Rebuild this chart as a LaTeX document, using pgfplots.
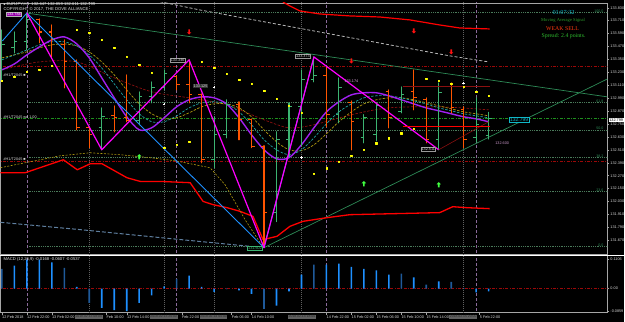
\documentclass[border=0pt]{standalone}
\usepackage{pgfplots}
\pgfplotsset{compat=1.18}
\usepackage{fontspec}
\setmainfont{Liberation Sans}
\newfontfamily\serif{Liberation Serif}
\definecolor{bull}{HTML}{3CB371}
\definecolor{bear}{HTML}{FF5500}
\definecolor{zzmag}{HTML}{FF00FF}
\definecolor{zzblue}{HTML}{1E90FF}
\definecolor{maviolet}{HTML}{A020F0}
\definecolor{macyan}{HTML}{1FA5A5}
\definecolor{maolive}{HTML}{B09A10}
\definecolor{madred}{HTML}{8B1010}
\definecolor{trendg}{HTML}{2E8B57}
\definecolor{fibc}{HTML}{4A7A5A}
\definecolor{lvlred}{HTML}{9A0808}
\definecolor{lvlgreen}{HTML}{1E8F1E}
\definecolor{sepc}{HTML}{8A6A9A}
\definecolor{vdot}{HTML}{606060}
\definecolor{sar}{HTML}{FFFF00}
\definecolor{macdb}{HTML}{1E90FF}
\definecolor{macdd}{HTML}{1F5A9A}
\definecolor{greyd}{HTML}{5F7F9F}
\definecolor{greyu}{HTML}{B8B8B8}
\definecolor{clockc}{HTML}{10B8C8}
\definecolor{sellc}{HTML}{FF3A10}
\definecolor{sprc}{HTML}{30C030}
\definecolor{masig}{HTML}{2A9A2A}
\definecolor{arrg}{HTML}{40FF40}
\definecolor{arrr}{HTML}{FF1010}
\newcommand{\axf}{\fontsize{3.8}{4}\selectfont}
\newcommand{\hf}{\fontsize{4.2}{4.6}\selectfont}
\pgfdeclareplotmark{uarr}{%
 \pgfpathmoveto{\pgfqpoint{0pt}{2.6pt}}%
 \pgfpathlineto{\pgfqpoint{2.2pt}{0.4pt}}%
 \pgfpathlineto{\pgfqpoint{0.8pt}{0.4pt}}%
 \pgfpathlineto{\pgfqpoint{0.8pt}{-2.6pt}}%
 \pgfpathlineto{\pgfqpoint{-0.8pt}{-2.6pt}}%
 \pgfpathlineto{\pgfqpoint{-0.8pt}{0.4pt}}%
 \pgfpathlineto{\pgfqpoint{-2.2pt}{0.4pt}}%
 \pgfpathclose\pgfusepathqfill}
\pgfdeclareplotmark{darr}{%
 \pgfpathmoveto{\pgfqpoint{0pt}{-2.6pt}}%
 \pgfpathlineto{\pgfqpoint{2.2pt}{-0.4pt}}%
 \pgfpathlineto{\pgfqpoint{0.8pt}{-0.4pt}}%
 \pgfpathlineto{\pgfqpoint{0.8pt}{2.6pt}}%
 \pgfpathlineto{\pgfqpoint{-0.8pt}{2.6pt}}%
 \pgfpathlineto{\pgfqpoint{-0.8pt}{-0.4pt}}%
 \pgfpathlineto{\pgfqpoint{-2.2pt}{-0.4pt}}%
 \pgfpathclose\pgfusepathqfill}
\begin{document}
\begin{tikzpicture}
\fill[black] (0pt,0pt) rectangle (625pt,322pt);
% ================= MAIN PRICE PANEL =================
\begin{axis}[
 at={(0pt,67pt)}, anchor=south west, scale only axis,
 width=608pt, height=252pt,
 xmin=-0.12, xmax=48.52, ymin=131.537, ymax=133.874,
 axis line style={draw=gray!70},
 xtick=\empty, scaled y ticks=false,
 ytick={131.67,131.79,131.91,132.03,132.15,132.27,132.39,132.51,132.63,132.75,132.87,132.99,133.11,133.23,133.35,133.47,133.59,133.71,133.83},
 ytick pos=right, yticklabel pos=right,
 tick align=outside, major tick length=2pt,
 tick style={gray!70, line width=0.4pt},
 yticklabel style={font=\axf, text=white!85!black, inner xsep=0.8pt,
   /pgf/number format/fixed, /pgf/number format/fixed zerofill,
   /pgf/number format/precision=3, /pgf/number format/assume math mode=true},
 unbounded coords=jump,
 every axis plot/.append style={line join=round},
]
% fibonacci levels
\addplot[fibc, line width=0.5pt, dash pattern=on 0.7pt off 1.1pt] coordinates {(2,133.784)(49,133.784)(49,nan)(2,132.954)(49,132.954)(49,nan)(2,132.696)(49,132.696)(49,nan)(2,132.441)(49,132.441)(49,nan)(2,132.124)(49,132.124)(49,nan)(2,131.611)(49,131.611)};
% red / green dash-dot levels
\addplot[lvlred, line width=0.6pt, dash pattern=on 3pt off 1.5pt on 0.8pt off 1.5pt] coordinates {(-1,133.290)(49,133.290)(49,nan)(-1,132.406)(49,132.406)};
\addplot[lvlgreen, line width=0.6pt, dash pattern=on 3pt off 1.5pt on 0.8pt off 1.5pt] coordinates {(-1,132.805)(49,132.805)};
% vertical lines
\addplot[vdot, line width=0.5pt, dash pattern=on 0.8pt off 1.2pt] coordinates {(7,131)(7,134)(7,nan)(13,131)(13,134)(13,nan)(17,131)(17,134)(17,nan)(24,131)(24,134)(24,nan)(37,131)(37,134)};
\addplot[sepc, line width=0.6pt, dash pattern=on 3pt off 2pt] coordinates {(2,131)(2,134)(2,nan)(14,131)(14,134)(14,nan)(26,131)(26,134)(26,nan)(38,131)(38,134)};
% grey dashed lines
\addplot[greyu, line width=0.8pt, dash pattern=on 3pt off 2pt] coordinates {(12.68,133.886)(15.88,133.809)(26.04,133.592)(35.88,133.383)(39.0,133.327)};
\addplot[greyd, line width=1pt, dash pattern=on 4pt off 2pt] coordinates {(-0.12,131.837)(6.28,131.769)(12.68,131.695)(19.88,131.614)};
% trend lines
\addplot[trendg, line width=0.7pt] coordinates {(1.96,133.781)(48.52,133.002)};
\addplot[trendg, line width=0.7pt] coordinates {(21,131.602)(48.52,133.169)};
% red envelopes
\addplot[red, line width=1.2pt] coordinates {(22.52,133.883)(23.08,133.846)(23.88,133.800)(25.48,133.772)(27.88,133.754)(30.28,133.744)(32.68,133.717)(35.08,133.670)(36.68,133.642)(39.08,133.633)};
\addplot[red, line width=1.3pt] coordinates {(-0.12,132.298)(1.88,132.298)(4.92,132.418)(6.04,132.325)(7.08,132.381)(8.02,132.381)(10.02,132.251)(11.08,132.217)(12.68,132.217)(15.08,132.205)(16.12,132.031)(16.92,132.001)(18.04,131.973)(19.08,131.939)(20.12,131.892)(20.92,131.676)(22.04,131.707)(23.08,131.800)(24.12,131.846)(26.04,131.880)(27.88,131.908)(35.08,131.927)(36.12,131.982)(37.24,131.973)(39.08,131.964)};
% moving averages
\addplot[madred, line width=0.7pt, dash pattern=on 2.5pt off 1.5pt, smooth] coordinates {(0,133.253)(3,133.327)(6,133.327)(9,133.179)(12,133.049)(15,132.993)(18,132.928)(21,132.789)(23,132.715)(25,132.743)(28,132.836)(31,132.900)(35,132.910)(39,132.882)};
\addplot[maolive, line width=0.6pt, dash pattern=on 2pt off 1.5pt] coordinates {(-0.12,132.344)(2.28,132.400)(4.68,132.455)(7.08,132.483)(9.48,132.465)(11.88,132.437)(13.88,132.409)(15.48,132.372)(16.68,132.344)(17.88,132.186)(19.48,131.862)(20.84,131.621)};
\addplot[maolive, line width=0.7pt, dash pattern=on 2.5pt off 1.5pt, smooth] coordinates {(0,133.364)(1,133.392)(2,133.420)(3,133.457)(4,133.485)(5,133.494)(6,133.475)(7,133.420)(8,133.327)(9,133.206)(10,133.067)(11,132.937)(12,132.845)(13,132.798)(14,132.808)(15,132.854)(16,132.910)(17,132.937)(18,132.937)(19,132.900)(20,132.817)(21,132.696)(22,132.585)(23,132.511)(24,132.502)(25,132.557)(26,132.659)(27,132.771)(28,132.863)(29,132.937)(30,132.975)(31,132.993)(32,132.993)(33,132.975)(34,132.947)(35,132.919)(36,132.891)(37,132.863)(38,132.845)(39,132.826)};
\addplot[macyan, line width=0.7pt, dash pattern=on 2.5pt off 1.5pt, smooth] coordinates {(0,133.346)(1,133.392)(2,133.438)(3,133.485)(4,133.513)(5,133.513)(6,133.475)(7,133.392)(8,133.271)(9,133.123)(10,132.975)(11,132.845)(12,132.771)(13,132.771)(14,132.826)(15,132.900)(16,132.947)(17,132.956)(18,132.937)(19,132.863)(20,132.743)(21,132.604)(22,132.511)(23,132.465)(24,132.511)(25,132.622)(26,132.752)(27,132.863)(28,132.937)(29,132.993)(30,133.012)(31,133.012)(32,132.993)(33,132.965)(34,132.937)(35,132.900)(36,132.873)(37,132.845)(38,132.826)(39,132.808)};
\addplot[maviolet, line width=1.4pt, smooth] coordinates {(0,133.253)(1,133.308)(2,133.392)(3,133.466)(4,133.531)(5,133.559)(6,133.494)(7,133.364)(8,133.179)(9,132.993)(10,132.817)(11,132.696)(12,132.715)(13,132.808)(14,132.910)(15,132.975)(16,133.002)(17,132.993)(18,132.937)(19,132.808)(20,132.650)(21,132.511)(22,132.427)(23,132.437)(24,132.557)(25,132.715)(26,132.863)(27,132.956)(28,133.021)(29,133.040)(30,133.040)(31,133.012)(32,132.975)(33,132.937)(34,132.900)(35,132.873)(36,132.845)(37,132.817)(38,132.798)(39,132.771)};
% OHLC bars - bullish
\addplot[bull, line width=1.1pt] coordinates {
(-0.25,133.253)(0,133.253)(0,133.624)(0,133.160)(0,133.485)(0.25,133.485)(0,nan)
(0.75,133.457)(1,133.457)(1,133.605)(1,133.410)(1,133.513)(1.25,133.513)(1,nan)
(1.75,133.513)(2,133.513)(2,133.781)(2,133.438)(2,133.717)(2.25,133.717)(2,nan)
(7.75,132.715)(8,132.715)(8,132.900)(8,132.511)(8,132.817)(8.25,132.817)(8,nan)
(10.75,132.780)(11,132.780)(11,133.049)(11,132.743)(11,133.002)(11.25,133.002)(11,nan)
(11.75,133.002)(12,133.002)(12,133.142)(12,132.947)(12,133.086)(12.25,133.086)(12,nan)
(12.75,133.086)(13,133.086)(13,133.253)(13,133.067)(13,133.216)(13.25,133.216)(13,nan)
(16.75,132.418)(17,132.418)(17,132.817)(17,132.344)(17,132.650)(17.25,132.650)(17,nan)
(17.75,132.650)(18,132.650)(18,132.975)(18,132.622)(18,132.928)(18.25,132.928)(18,nan)
(21.75,131.927)(22,131.927)(22,132.678)(22,131.843)(22,132.604)(22.25,132.604)(22,nan)
(22.75,132.604)(23,132.604)(23,132.947)(23,132.446)(23,132.910)(23.25,132.910)(23,nan)
(23.75,132.910)(24,132.910)(24,133.253)(24,132.548)(24,133.160)(24.25,133.160)(24,nan)
(24.75,133.160)(25,133.160)(25,133.373)(25,133.142)(25,133.197)(25.25,133.197)(25,nan)
(26.75,132.836)(27,132.836)(27,133.179)(27,132.761)(27,133.086)(27.25,133.086)(27,nan)
(28.75,132.622)(29,132.622)(29,132.836)(29,132.576)(29,132.808)(29.25,132.808)(29,nan)
(29.75,132.650)(30,132.650)(30,132.947)(30,132.594)(30,132.919)(30.25,132.919)(30,nan)
(31.75,132.863)(32,132.863)(32,133.095)(32,132.854)(32,133.021)(32.25,133.021)(32,nan)
(34.75,132.604)(35,132.604)(35,133.132)(35,132.511)(35,133.040)(35.25,133.040)(35,nan)
(37.75,132.622)(38,132.622)(38,132.993)(38,132.585)(38,132.743)(38.25,132.743)(38,nan)
(38.75,132.647)(39,132.647)(39,132.859)(39,132.611)(39,132.799)(39.25,132.799)};
% OHLC bars - bearish
\addplot[bear, line width=1.1pt] coordinates {
(2.75,133.717)(3,133.717)(3,133.726)(3,133.503)(3,133.605)(3.25,133.605)(3,nan)
(3.75,133.605)(4,133.605)(4,133.670)(4,133.373)(4,133.531)(4.25,133.531)(4,nan)
(4.75,133.485)(5,133.485)(5,133.531)(5,133.086)(5,133.327)(5.25,133.327)(5,nan)
(5.75,133.327)(6,133.327)(6,133.346)(6,132.696)(6,132.715)(6.25,132.715)(6,nan)
(6.75,132.715)(7,132.715)(7,132.724)(7,132.530)(7,132.650)(7.25,132.650)(7,nan)
(8.75,132.826)(9,132.826)(9,132.919)(9,132.678)(9,132.808)(9.25,132.808)(9,nan)
(9.75,132.808)(10,132.808)(10,133.206)(10,132.771)(10,132.780)(10.25,132.780)(10,nan)
(13.75,133.188)(14,133.188)(14,133.197)(14,133.067)(14,133.114)(14.25,133.114)(14,nan)
(14.75,133.114)(15,133.114)(15,133.346)(15,132.947)(15,133.021)(15.25,133.021)(15,nan)
(15.75,133.021)(16,133.021)(16,133.030)(16,132.390)(16,132.418)(16.25,132.418)(16,nan)
(18.75,132.928)(19,132.928)(19,132.956)(19,132.604)(19,132.789)(19.25,132.789)(19,nan)
(19.75,132.789)(20,132.789)(20,132.798)(20,132.530)(20,132.539)(20.25,132.539)(20,nan)
(20.75,132.539)(21,132.539)(21,132.548)(21,131.602)(21,131.927)(21.25,131.927)(21,nan)
(25.75,133.197)(26,133.197)(26,133.281)(26,132.724)(26,132.836)(26.25,132.836)(26,nan)
(27.75,132.947)(28,132.947)(28,132.965)(28,132.511)(28,132.771)(28.25,132.771)(28,nan)
(30.75,133.049)(31,133.049)(31,133.067)(31,132.715)(31,132.808)(31.25,132.808)(31,nan)
(32.75,133.049)(33,133.049)(33,133.253)(33,132.882)(33,132.993)(33.25,132.993)(33,nan)
(33.75,132.975)(34,132.975)(34,132.993)(34,132.576)(34,132.604)(34.25,132.604)(34,nan)
(35.75,133.095)(36,133.095)(36,133.132)(36,132.854)(36,132.900)(36.25,132.900)(36,nan)
(36.75,132.882)(37,132.882)(37,132.910)(37,132.530)(37,132.604)(37.25,132.604)};
% zigzags
\addplot[zzblue, line width=0.9pt] coordinates {(0.04,133.522)(2,133.781)(21,131.602)(25,133.373)};
\addplot[zzmag, line width=1.2pt] coordinates {(2,133.781)(8,132.511)(15,133.346)(21,131.602)(25,133.373)(35,132.511)};
\addplot[madred, line width=0.6pt] coordinates {(35,132.511)(39,132.771)};
% range box lines
\addplot[red, line width=1.1pt] coordinates {(32.1,132.727)(39.08,132.727)};
\addplot[madred, line width=1.8pt] coordinates {(32.1,133.098)(39.08,133.098)};
% parabolic SAR dots
\addplot[only marks, mark=square*, mark size=0.7pt, sar] coordinates {(0,133.151)(1,133.188)(2,133.234)(3,133.253)(4,133.290)(6,133.624)(7,133.596)(8,133.531)(9,133.460)(10,133.376)(11,133.299)(12,133.228)(13,132.530)(14,132.557)(15,132.585)(16,133.327)(17,133.271)(18,133.216)(19,133.160)(20,133.123)(21,133.058)(22,132.984)(23,132.922)(24,132.854)(25,132.288)(26,132.341)(27,132.402)(28,132.455)(29,132.511)(30,132.573)(31,132.619)(32,132.666)(33,132.706)(34,133.169)(35,133.151)(36,133.123)(37,133.095)(38,133.049)(39,133.012)};
% arrows and crosses
\addplot[only marks, mark=uarr, arrg] coordinates {(11,132.446)(29,132.196)(35,132.186)};
\addplot[only marks, mark=darr, arrr] coordinates {(15,133.605)(28,133.336)(33,133.615)(36,133.420)};
\addplot[only marks, mark=+, mark size=1.3pt, white, line width=0.5pt] coordinates {(13,132.937)(17,133.095)(24,132.437)(37,133.132)};
\end{axis}
% ================= MACD PANEL =================
\begin{axis}[
 at={(0pt,9pt)}, anchor=south west, scale only axis,
 width=608pt, height=57pt,
 xmin=-0.12, xmax=48.52, ymin=-0.09144, ymax=0.12573,
 axis line style={draw=gray!70},
 xtick={0,2,4,8.36,10,14.41,18.41,20,26,28,30,32,34,38.28},
 xticklabels={12 Feb 2018,12 Feb 22:00,13 Feb 02:00,Feb 10:00,13 Feb 14:00,Feb 22:00,Feb 06:00,14 Feb 10:00,14 Feb 22:00,15 Feb 02:00,15 Feb 06:00,15 Feb 10:00,15 Feb 14:00,5 Feb 22:00},
 xtick pos=bottom, xticklabel pos=bottom,
 ytick={-0.0859,0,0.1106}, yticklabels={-0.0859,0.00,0.1106},
 ytick pos=right, yticklabel pos=right,
 tick align=outside, major tick length=2pt,
 tick style={gray!70, line width=0.4pt},
 xticklabel style={font=\axf, text=white!85!black, anchor=north west, inner sep=0.6pt, xshift=-0.5pt},
 yticklabel style={font=\axf, text=white!85!black, inner xsep=0.8pt},
 unbounded coords=jump,
]
\addplot[vdot, line width=0.5pt, dash pattern=on 0.8pt off 1.2pt] coordinates {(7,-0.2)(7,0.2)(7,nan)(13,-0.2)(13,0.2)(13,nan)(17,-0.2)(17,0.2)(17,nan)(24,-0.2)(24,0.2)(24,nan)(37,-0.2)(37,0.2)};
\addplot[sepc, line width=0.6pt, dash pattern=on 3pt off 2pt] coordinates {(2,-0.2)(2,0.2)(2,nan)(14,-0.2)(14,0.2)(14,nan)(26,-0.2)(26,0.2)(26,nan)(38,-0.2)(38,0.2)};
\addplot[lvlred, line width=0.6pt, dash pattern=on 3pt off 1.5pt on 0.8pt off 1.5pt] coordinates {(-1,0)(49,0)};
\addplot[ybar, bar width=1.6pt, bar shift=0pt, fill=macdb, draw=none] coordinates {(1,0.0876)(2,0.1106)(3,0.1100)(4,0.1002)(6,0.0065)(8,-0.0735)(9,-0.0827)(10,-0.0859)(11,-0.0545)(12,-0.0255)(13,0.0088)(15,0.0495)(16,0.0065)(17,-0.0126)(18,-0.0020)(19,-0.0065)(20,-0.0202)(22,-0.0648)(23,-0.0103)(24,0.0533)(26,0.0914)(27,0.0953)(28,0.0827)(29,0.0751)(30,0.0697)(31,0.0533)(33,0.0431)(35,0.0278)(37,-0.0008)(38,-0.0141)(39,-0.0103)};
\addplot[ybar, bar width=1.6pt, bar shift=0pt, fill=macdd, draw=none] coordinates {(0,0.0751)(5,0.0789)(7,-0.0545)(14,0.0370)(21,-0.0773)(25,0.0914)(32,0.0572)(34,0.0152)(36,0.0255)};
\end{axis}
% separator
\draw[white, line width=0.8pt] (0pt,66.5pt) -- (625pt,66.5pt);
% ---- texts ----
\node[anchor=west, inner sep=0pt, text=white!90!black, font=\hf] at (3pt,317.6pt) {\raisebox{0.2pt}{\fontsize{3}{3}\selectfont■}\ EURJPY,H4\ \ 132.647 132.859 132.611 132.799};
\node[anchor=west, inner sep=0pt, text=white!90!black, font=\hf] at (3pt,312.4pt) {COPYRIGHT © 2017, THE DOVE ALLIANCE};
\node[anchor=west, inner sep=0pt, text=white!90!black, font=\hf] at (3pt,62.5pt) {MACD (12,26,9) -0.0168 -0.0607 -0.0537};
% top right signal panel
\node[text=clockc, font=\serif\fontsize{6.2}{6.5}\selectfont, inner sep=0pt] at (564pt,309.3pt) {01:07:32};
\node[text=masig, font=\serif\fontsize{4.6}{5}\selectfont, inner sep=0pt] at (563.5pt,302pt) {Moving Average Signal};
\node[text=sellc, font=\serif\fontsize{5.8}{6}\selectfont, inner sep=0pt] at (563pt,293.7pt) {WEAK SELL};
\node[text=sprc, font=\serif\fontsize{5.8}{6}\selectfont, inner sep=0pt] at (564pt,286.3pt) {Spread: 2.4 points.};
% price boxes
\node[fill={rgb,255:red,150;green,0;blue,170}, draw=white!70!black, line width=0.3pt, text=white, font=\axf, inner sep=0.6pt] at (13.5pt,307.8pt) {133.784};
\node[fill=black, draw=gray!80, line width=0.3pt, text=white!85!black, font=\axf, inner sep=0.6pt] at (177.5pt,261.5pt) {133.346};
\node[fill=black, draw=gray!80, line width=0.3pt, text=white!85!black, font=\axf, inner sep=0.6pt] at (303pt,265.5pt) {133.373};
\node[fill=black, draw=gray!80, line width=0.3pt, text=white!85!black, font=\axf, inner sep=0.6pt] at (428.5pt,172.5pt) {132.511};
\node[fill=black, draw=bull, line width=0.3pt, text=bull, font=\axf, inner sep=0.6pt] at (255pt,73.5pt) {131.602};
\node[fill=black, draw=clockc, line width=0.4pt, text=clockc, font=\fontsize{5}{5}\selectfont, inner sep=0.8pt] at (519.5pt,202.5pt) {132.799};
\node[text={rgb,255:red,225;green,170;blue,225}, font=\axf, inner sep=0pt] at (351.5pt,241pt) {133.174};
\node[fill=black!80!white, text=white!85!black, font=\axf, inner sep=0.5pt] at (200.5pt,236pt) {133.125};
\node[text={rgb,255:red,200;green,150;blue,200}, font=\axf, inner sep=0pt] at (502.5pt,179pt) {132.600};
% left level labels
\node[anchor=west, text=white!85!black, font=\axf, inner sep=0pt] at (3pt,247pt) {\#H1/T2045 ■};
\node[anchor=west, text=white!85!black, font=\axf, inner sep=0pt] at (3pt,205pt) {\#H1/T2045 wd 1.00};
\node[anchor=west, text=white!85!black, font=\axf, inner sep=0pt] at (3pt,163pt) {\#H1/T2045 ■};
% fibo labels
\foreach \yy/\tt in {311/100.0,221/61.8,193.3/50.0,166/38.2,131.3/23.6,76.3/0.0}
  \node[anchor=east, text=trendg, font=\fontsize{3.6}{4}\selectfont, inner sep=0pt] at (604pt,\yy pt) {\tt};
% current price on the scale
\node[fill=white, text=black, font=\axf, inner sep=0.6pt, anchor=west] at (609pt,202pt) {132.799};
% time boxes of the vertical lines
\foreach \xx/\tt in {88.5/2018.02.13 08:00,163.5/2018.02.13 20:00,213.5/2018.02.14 04:00,302/2018.02.14 18:00,463.5/2018.02.15 20:00}
  \node[fill=gray!75!black, text=black!85, font=\fontsize{3.4}{3.6}\selectfont, inner sep=0.7pt] at (\xx pt,4.8pt) {\tt};
\end{tikzpicture}
\end{document}
